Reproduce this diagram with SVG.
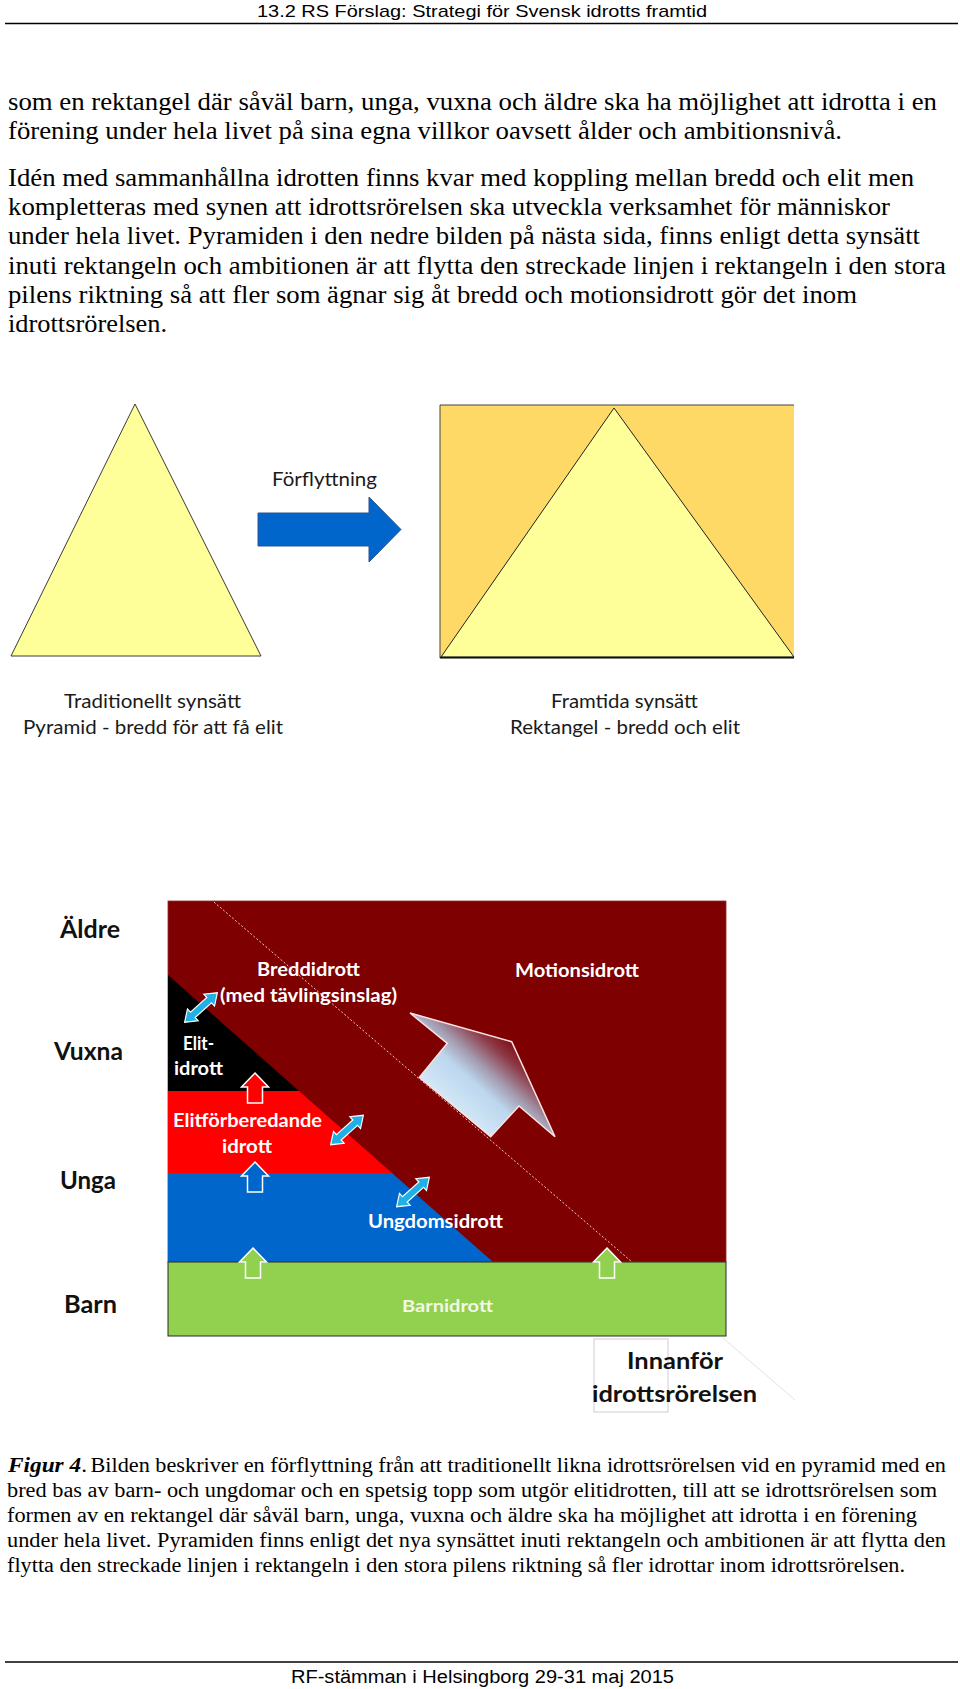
<svg xmlns="http://www.w3.org/2000/svg" width="960" height="1689" viewBox="0 0 960 1689">
<defs>
<style>
.hdr{font-family:"Liberation Sans",Arial,sans-serif;font-size:17px;fill:#000}
.body{font-family:"Liberation Serif","Times New Roman",serif;font-size:25px;fill:#000}
.cap{font-family:"Liberation Serif","Times New Roman",serif;font-size:20px;fill:#000}
.lbl{font-family:Lato,"Open Sans",sans-serif;font-size:19px;fill:#1a1a1a}
.age{font-family:Lato,"Open Sans",sans-serif;font-weight:bold;font-size:24px;fill:#111}
.wl{font-family:Lato,"Open Sans",sans-serif;font-weight:bold;font-size:19px;fill:#fff}
.upa{stroke:#fff;stroke-width:1.5;stroke-linejoin:miter}
.dba{fill:#1FB0E6;stroke:#fff;stroke-width:1.2}
</style>
<path id="up" d="M0,0 L13.5,14 L7.5,14 L7.5,30 L-7.5,30 L-7.5,14 L-13.5,14 Z"/>
<path id="dbl" d="M-22,0 L-11,-8 L-11,-3.5 L11,-3.5 L11,-8 L22,0 L11,8 L11,3.5 L-11,3.5 L-11,8 Z"/>
<linearGradient id="bigg" gradientUnits="userSpaceOnUse" x1="455" y1="1107" x2="514" y2="1041">
<stop offset="0" stop-color="#D2E7F7"/>
<stop offset="0.35" stop-color="#BCD6EE"/>
<stop offset="0.55" stop-color="#A49CB0"/>
<stop offset="0.8" stop-color="#8E3A48"/>
<stop offset="1" stop-color="#7C0A10"/>
</linearGradient>
</defs>

<g id="header">
<text class="hdr" x="257" y="17" textLength="450" lengthAdjust="spacingAndGlyphs">13.2 RS Förslag: Strategi för Svensk idrotts framtid</text>
<line x1="5" y1="23.5" x2="958" y2="23.5" stroke="#000" stroke-width="1.3"/>
</g>

<g id="body-text">
<text class="body" x="8" y="110" textLength="929" lengthAdjust="spacingAndGlyphs">som en rektangel där såväl barn, unga, vuxna och äldre ska ha möjlighet att idrotta i en</text>
<text class="body" x="8" y="138.5" textLength="834" lengthAdjust="spacingAndGlyphs">förening under hela livet på sina egna villkor oavsett ålder och ambitionsnivå.</text>
<text class="body" x="8" y="186" textLength="906" lengthAdjust="spacingAndGlyphs">Idén med sammanhållna idrotten finns kvar med koppling mellan bredd och elit men</text>
<text class="body" x="8" y="215" textLength="882" lengthAdjust="spacingAndGlyphs">kompletteras med synen att idrottsrörelsen ska utveckla verksamhet för människor</text>
<text class="body" x="8" y="244" textLength="912" lengthAdjust="spacingAndGlyphs">under hela livet. Pyramiden i den nedre bilden på nästa sida, finns enligt detta synsätt</text>
<text class="body" x="8" y="273.5" textLength="938" lengthAdjust="spacingAndGlyphs">inuti rektangeln och ambitionen är att flytta den streckade linjen i rektangeln i den stora</text>
<text class="body" x="8" y="302.5" textLength="849" lengthAdjust="spacingAndGlyphs">pilens riktning så att fler som ägnar sig åt bredd och motionsidrott gör det inom</text>
<text class="body" x="8" y="332" textLength="159" lengthAdjust="spacingAndGlyphs">idrottsrörelsen.</text>
</g>

<g id="pyramid">
<polygon points="135,404 261,656 11,656" fill="#FFFF99" stroke="#3a3a3a" stroke-width="1"/>
</g>

<g id="rektangel">
<rect x="440" y="405" width="354" height="253" fill="#FFD966"/>
<path d="M794,405 L440,405 L440,658 L794,658" fill="none" stroke="#444" stroke-width="1"/>
<polygon points="614,408 794,657 441,657" fill="#FFFF99" stroke="#222" stroke-width="1"/>
<line x1="440" y1="657.5" x2="794" y2="657.5" stroke="#111" stroke-width="1.5"/>
</g>

<g id="forflyttning">
<polygon points="258,513 369,513 369,497 401,529.5 369,562 369,546 258,546" fill="#0066CC" stroke="#2F528F" stroke-width="1"/>
<text class="lbl" x="272" y="486" textLength="105" lengthAdjust="spacingAndGlyphs">Förflyttning</text>
</g>

<g id="top-labels">
<text class="lbl" x="64" y="708" textLength="177" lengthAdjust="spacingAndGlyphs">Traditionellt synsätt</text>
<text class="lbl" x="23" y="734" textLength="260" lengthAdjust="spacingAndGlyphs">Pyramid - bredd för att få elit</text>
<text class="lbl" x="551" y="708" textLength="147" lengthAdjust="spacingAndGlyphs">Framtida synsätt</text>
<text class="lbl" x="510" y="734" textLength="230" lengthAdjust="spacingAndGlyphs">Rektangel - bredd och elit</text>
</g>

<g id="ages">
<text class="age" x="60" y="938" textLength="60" lengthAdjust="spacingAndGlyphs">Äldre</text>
<text class="age" x="54" y="1060" textLength="69" lengthAdjust="spacingAndGlyphs">Vuxna</text>
<text class="age" x="60" y="1189" textLength="56" lengthAdjust="spacingAndGlyphs">Unga</text>
<text class="age" x="64" y="1313" textLength="53" lengthAdjust="spacingAndGlyphs">Barn</text>
</g>

<g id="idrott-rektangel">
<rect x="168" y="901" width="558" height="361" fill="#7F0000" stroke="#9A2A2A" stroke-width="0.8"/>
<polygon points="168,975 299,1091 168,1091" fill="#000"/>
<polygon points="168,1091 299,1091 392,1173 168,1173" fill="#FF0000"/>
<polygon points="168,1173 392,1173 493,1262 168,1262" fill="#0066CC"/>
<rect x="168" y="1262" width="558" height="74" fill="#92D050" stroke="#2a2a2a" stroke-width="1"/>
</g>

<g id="streckad-linje">
<line x1="214" y1="902" x2="632" y2="1262" stroke="#F3C9C9" stroke-width="1" stroke-dasharray="2 2"/>
</g>

<g id="stora-pilen">
<polygon points="410,1013 511.7,1041.7 555,1136.7 519,1106 490.7,1136.7 419.3,1077.3 447.3,1043.3" fill="url(#bigg)" stroke="#FBE3E3" stroke-width="1.5" stroke-linejoin="miter"/>
</g>

<g id="upp-pilar">
<use href="#up" x="255" y="1073" fill="#FF0000" class="upa"/>
<use href="#up" x="255" y="1162" fill="#0066CC" class="upa"/>
<use href="#up" x="253" y="1248" fill="#92D050" class="upa"/>
<use href="#up" x="607" y="1248" fill="#92D050" class="upa"/>
</g>

<g id="dubbelpilar">
<use href="#dbl" class="dba" transform="translate(201,1007.5) rotate(-42)"/>
<use href="#dbl" class="dba" transform="translate(347,1130) rotate(-42)"/>
<use href="#dbl" class="dba" transform="translate(413,1192) rotate(-42)"/>
</g>

<g id="omrades-etiketter">
<text class="wl" x="257" y="976" textLength="103" lengthAdjust="spacingAndGlyphs">Breddidrott</text>
<text class="wl" x="220" y="1002" textLength="177" lengthAdjust="spacingAndGlyphs">(med tävlingsinslag)</text>
<text class="wl" x="515" y="977" textLength="124" lengthAdjust="spacingAndGlyphs">Motionsidrott</text>
<text class="wl" x="183" y="1050" textLength="31" lengthAdjust="spacingAndGlyphs">Elit-</text>
<text class="wl" x="174" y="1075" textLength="49" lengthAdjust="spacingAndGlyphs">idrott</text>
<text class="wl" x="173" y="1127" textLength="149" lengthAdjust="spacingAndGlyphs">Elitförberedande</text>
<text class="wl" x="222" y="1153" textLength="50" lengthAdjust="spacingAndGlyphs">idrott</text>
<text class="wl" x="368" y="1228" textLength="135" lengthAdjust="spacingAndGlyphs">Ungdomsidrott</text>
<text class="wl" x="402" y="1312" textLength="91" lengthAdjust="spacingAndGlyphs" style="font-size:17px;fill:#F2F8E6">Barnidrott</text>
</g>

<g id="innanfor">
<rect x="594" y="1339" width="74" height="73" fill="none" stroke="#D0CCD8" stroke-width="1"/>
<line x1="723" y1="1338" x2="795" y2="1400" stroke="#E2E2E2" stroke-width="1"/>
<text class="age" x="627" y="1369" textLength="96" lengthAdjust="spacingAndGlyphs" style="font-size:23px">Innanför</text>
<text class="age" x="592" y="1402" textLength="165" lengthAdjust="spacingAndGlyphs" style="font-size:23px">idrottsrörelsen</text>
</g>

<g id="caption">
<text class="cap" x="8" y="1472" textLength="79" lengthAdjust="spacingAndGlyphs"><tspan style="font-style:italic;font-weight:bold">Figur 4</tspan>.</text>
<text class="cap" x="90.5" y="1472" textLength="855.5" lengthAdjust="spacingAndGlyphs">Bilden beskriver en förflyttning från att traditionellt likna idrottsrörelsen vid en pyramid med en</text>
<text class="cap" x="7" y="1497" textLength="930" lengthAdjust="spacingAndGlyphs">bred bas av barn- och ungdomar och en spetsig topp som utgör elitidrotten, till att se idrottsrörelsen som</text>
<text class="cap" x="7" y="1522" textLength="910" lengthAdjust="spacingAndGlyphs">formen av en rektangel där såväl barn, unga, vuxna och äldre ska ha möjlighet att idrotta i en förening</text>
<text class="cap" x="7" y="1547" textLength="939" lengthAdjust="spacingAndGlyphs">under hela livet. Pyramiden finns enligt det nya synsättet inuti rektangeln och ambitionen är att flytta den</text>
<text class="cap" x="7" y="1572" textLength="898" lengthAdjust="spacingAndGlyphs">flytta den streckade linjen i rektangeln i den stora pilens riktning så fler idrottar inom idrottsrörelsen.</text>
</g>

<g id="footer">
<line x1="5" y1="1662" x2="958" y2="1662" stroke="#000" stroke-width="1.3"/>
<text class="hdr" x="291" y="1683" textLength="383" lengthAdjust="spacingAndGlyphs" style="font-size:18px">RF-stämman i Helsingborg 29-31 maj 2015</text>
</g>
</svg>
